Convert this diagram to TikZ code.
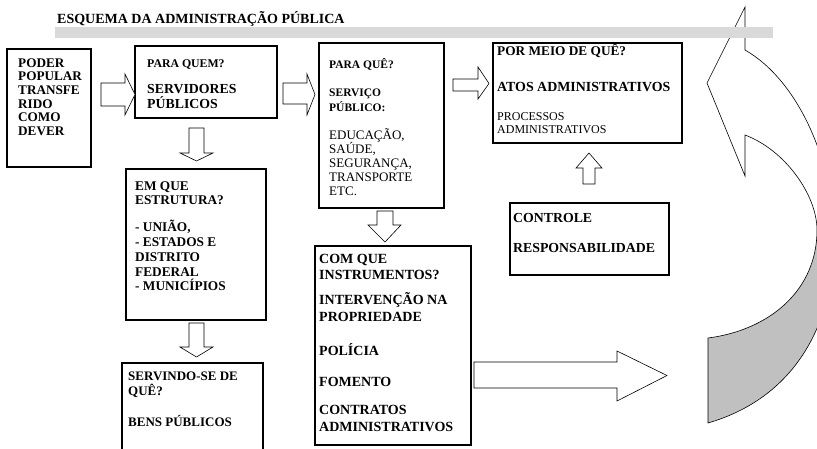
\documentclass[tikz,border=0pt]{standalone}
\usepackage{fontspec}
\setmainfont{Liberation Serif}
\usetikzlibrary{fit}
\definecolor{bargrey}{HTML}{D9D9D9}
\definecolor{arrowgrey}{HTML}{C0C0C0}
\tikzset{
  box/.style={draw=black, line width=1.2pt, inner sep=0pt},
  blockarrow/.style={draw=black, line width=0.6pt, fill=white, line join=miter},
  txt/.style={anchor=north west, inner sep=0pt, align=left},
  curvedline/.style={draw=black, line width=0.6pt},
}
\newcommand{\fs}[2]{\fontsize{#1}{#2}\selectfont}
\begin{document}
\begin{tikzpicture}[x=1pt,y=-1pt]
\useasboundingbox (0,0) rectangle (817,448);

% curved return arrow (right side)
\begin{scope}
  \clip (0,0) rectangle (817,448);
  \fill[white] (745,50) .. controls (850,110) and (890,370) .. (708,423) -- (708,338)
     .. controls (770,330) and (817,290) .. (817,230)
     .. controls (817,195) and (785,150) .. (745,135) -- (745,176) -- (707,83) -- (745,7) -- cycle;
  \begin{scope}
    \clip (600,230) rectangle (900,500);
    \fill[arrowgrey] (745,50) .. controls (850,110) and (890,370) .. (708,423) -- (708,338)
       .. controls (770,330) and (817,290) .. (817,230)
       .. controls (817,195) and (785,150) .. (745,135) -- (745,176) -- (707,83) -- (745,7) -- cycle;
  \end{scope}
  \draw[curvedline, line join=miter] (745,50) .. controls (850,110) and (890,370) .. (708,423) -- (708,338)
     .. controls (770,330) and (817,290) .. (817,230)
     .. controls (817,195) and (785,150) .. (745,135) -- (745,176) -- (707,83) -- (745,7) -- cycle;
\end{scope}

% title and bar
\fill[bargrey] (55,27) rectangle (773,38);
\node[anchor=base west, inner sep=0pt, font=\fs{14}{16}\bfseries] (title) at (57,23)
  {ESQUEMA DA ADMINISTRAÇÃO PÚBLICA};

% boxes
\node[box, fit={(7,49) (91,167)}] (b1) {};
\node[box, fit={(135,46) (277,118)}] (b2) {};
\node[box, fit={(319,43) (444,208)}] (b3) {};
\node[box, fit={(126,169) (266,320)}] (b4) {};
\node[box, fit={(122,363) (263,470)}] (b5) {};
\node[box, fit={(315,246) (471,445)}] (b6) {};
\node[box, fit={(510,203) (669,275)}] (b7) {};
\node[box, fit={(493,43) (682,143)}] (b8) {};

% texts
\node[txt, font=\fs{13.2}{13.6}\bfseries] (t1) at (18,55)
  {\rule{0pt}{12pt}PODER\\POPULAR\\TRANSFE\\RIDO\\COMO\\DEVER};
\node[txt, font=\fs{13.8}{15}\bfseries] (t2) at (147,55)
  {\rule{0pt}{12pt}\fs{11.8}{15}PARA QUEM?\\[11pt]SERVIDORES\\PÚBLICOS};
\node[txt, font=\fs{13}{14}] (t3) at (329,56)
  {\rule{0pt}{12pt}\bfseries\fs{11.5}{14}PARA QUÊ?\\[14pt]\bfseries\fs{11.5}{14}SERVIÇO\\[1pt]\bfseries\fs{11.5}{14}PÚBLICO:\\[14pt]EDUCAÇÃO,\\SAÚDE,\\SEGURANÇA,\\TRANSPORTE\\ETC.};
\node[txt, font=\fs{13.3}{14.7}\bfseries] (t4) at (135,178)
  {\rule{0pt}{12pt}EM QUE\\ESTRUTURA?\\[12.3pt]- UNIÃO,\\- ESTADOS E\\DISTRITO\\FEDERAL\\- MUNICÍPIOS};
\node[txt, font=\fs{13}{15}\bfseries] (t5) at (128,368)
  {\rule{0pt}{12pt}SERVINDO-SE DE\\QUÊ?\\[16pt]BENS PÚBLICOS};
\node[txt, font=\fs{14}{16.5}\bfseries] (t6) at (319,251)
  {\rule{0pt}{12pt}COM QUE\\INSTRUMENTOS?\\[8.5pt]INTERVENÇÃO NA\\PROPRIEDADE\\[18pt]POLÍCIA\\[14.5pt]FOMENTO\\[11.5pt]CONTRATOS\\ADMINISTRATIVOS};
\node[txt, font=\fs{13.8}{15}\bfseries] (t7) at (513,210)
  {\rule{0pt}{12pt}CONTROLE\\[15pt]RESPONSABILIDADE};
\node[txt, font=\fs{13.3}{15}\bfseries] (t8) at (497,43)
  {\rule{0pt}{12pt}POR MEIO DE QUÊ?\\[21pt]\fs{13.9}{15}ATOS ADMINISTRATIVOS\\[14pt]\mdseries\fs{12}{15}PROCESSOS\\[-2pt]\mdseries\fs{12}{15}ADMINISTRATIVOS};

% block arrows
\draw[blockarrow] (101,83) -- (125,83) -- (125,74) -- (135,94.5) -- (125,115) -- (125,106) -- (101,106) -- cycle;
\draw[blockarrow] (283,83) -- (307,83) -- (307,74) -- (315,94.5) -- (307,115) -- (307,104) -- (283,104) -- cycle;
\draw[blockarrow] (453,79) -- (478,79) -- (478,67) -- (489,83.5) -- (478,99) -- (478,91) -- (453,91) -- cycle;
\draw[blockarrow] (189,128) -- (204,128) -- (204,153) -- (213,153) -- (196.5,161) -- (180,153) -- (189,153) -- cycle;
\draw[blockarrow] (189,323) -- (204,323) -- (204,347) -- (213,347) -- (196.5,357) -- (180,347) -- (189,347) -- cycle;
\draw[blockarrow] (377,211) -- (393,211) -- (393,225) -- (401,225) -- (385,242) -- (368,225) -- (377,225) -- cycle;
\draw[blockarrow] (583,184) -- (595,184) -- (595,168) -- (602,168) -- (589,153) -- (576,168) -- (583,168) -- cycle;
\draw[blockarrow] (474,362) -- (617,362) -- (617,351) -- (667,375.5) -- (617,401) -- (617,388) -- (474,388) -- cycle;
\end{tikzpicture}
\end{document}
